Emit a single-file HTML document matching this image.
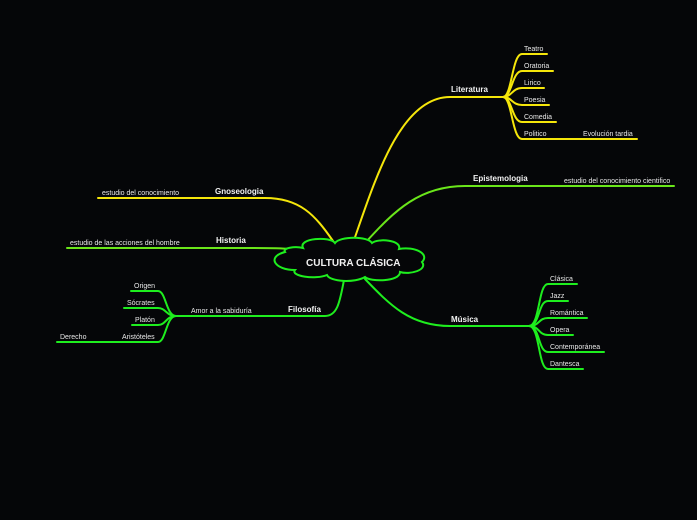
<!DOCTYPE html>
<html><head><meta charset="utf-8"><style>
html,body{margin:0;padding:0;background:#050608;}
svg{display:block}
text{font-family:"Liberation Sans",sans-serif;fill:#e8e8e8;font-size:7px}
.b{font-weight:bold;font-size:8px;fill:#f2f2f2}
</style></head><body>
<svg width="697" height="520" viewBox="0 0 697 520" xmlns="http://www.w3.org/2000/svg">
<rect width="697" height="520" fill="#050608"/>
<g fill="none" stroke-linecap="round" stroke-width="2">
<g stroke="#f5e60a">
<path d="M353 243 C375 180 400 97 450 97 L503 97"/>
<path d="M503 97 C512 97 512 54 522 54 L547 54"/>
<path d="M503 97 C512 97 512 71 522 71 L553 71"/>
<path d="M503 97 C512 97 512 88 522 88 L544 88"/>
<path d="M503 97 C512 97 512 105 522 105 L549 105"/>
<path d="M503 97 C512 97 512 122 522 122 L556 122"/>
<path d="M503 97 C512 97 512 139 522 139 L637 139"/>
<path d="M333 241 C315 215 300 198 265 198 L98 198"/>
</g>
<g stroke="#6ae61a">
<path d="M366 242 C395 210 420 186 465 186 L674 186"/>
<path d="M290 249 C280 248 270 248 250 248 L67 248"/>
</g>
<g stroke="#1eee1e">
<path d="M344 280 C340 300 338 316 325 316 L175 316"/>
<path d="M176 316 C166 316 166 291 158 291 L131 291"/>
<path d="M176 316 C166 316 166 308 158 308 L124 308"/>
<path d="M176 316 C166 316 166 325 158 325 L132 325"/>
<path d="M176 316 C166 316 166 342 158 342 L57 342"/>
<path d="M365 279 C390 305 410 326 450 326 L530 326"/>
<path d="M529 326 C540 326 538 284 548 284 L577 284"/>
<path d="M529 326 C540 326 538 301 548 301 L568 301"/>
<path d="M529 326 C540 326 538 318 548 318 L587 318"/>
<path d="M529 326 C540 326 538 335 548 335 L573 335"/>
<path d="M529 326 C540 326 538 352 548 352 L604 352"/>
<path d="M529 326 C540 326 538 369 548 369 L583 369"/>
</g>
<path d="M303 248 C298 238 330 236 335 243 C340 236 368 236 372 243 C378 238 402 240 399 249 C415 246 430 254 422 262 C428 270 410 275 400 272 C400 282 370 282 365 277 C355 283 330 282 327 275 C315 280 290 276 295 270 C275 270 266 257 285 252 C282 248 295 246 303 248 Z" fill="#050608" stroke="#1eee1e"/>
</g>
<text x="306" y="266" class="b" style="font-size:10px">CULTURA CLÁSICA</text>
<text x="451" y="92" class="b">Literatura</text>
<text x="524" y="51">Teatro</text>
<text x="524" y="68">Oratoria</text>
<text x="524" y="85">Lirico</text>
<text x="524" y="102">Poesia</text>
<text x="524" y="119">Comedia</text>
<text x="524" y="136">Politico</text>
<text x="583" y="136">Evolución tardia</text>
<text x="473" y="181" class="b">Epistemologia</text>
<text x="564" y="183">estudio del conocimiento cientifico</text>
<text x="215" y="194" class="b">Gnoseologia</text>
<text x="102" y="195">estudio del conocimiento</text>
<text x="216" y="243" class="b">Historia</text>
<text x="70" y="245">estudio de las acciones del hombre</text>
<text x="288" y="312" class="b">Filosofía</text>
<text x="191" y="313">Amor a la sabiduría</text>
<text x="134" y="288">Origen</text>
<text x="127" y="305">Sócrates</text>
<text x="135" y="322">Platón</text>
<text x="122" y="339">Aristóteles</text>
<text x="60" y="339">Derecho</text>
<text x="451" y="322" class="b">Música</text>
<text x="550" y="281">Clásica</text>
<text x="550" y="298">Jazz</text>
<text x="550" y="315">Romántica</text>
<text x="550" y="332">Opera</text>
<text x="550" y="349">Contemporánea</text>
<text x="550" y="366">Dantesca</text>
</svg>
</body></html>
